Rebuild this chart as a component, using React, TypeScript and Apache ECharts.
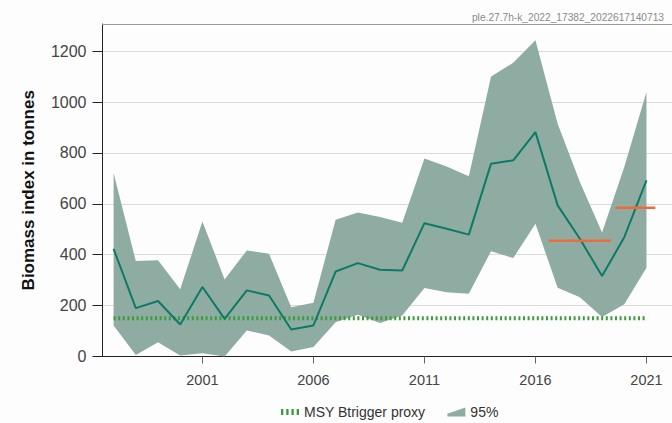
import React, { useEffect, useRef } from "react";
import * as echarts from "echarts";

const years = [1997, 1998, 1999, 2000, 2001, 2002, 2003, 2004, 2005, 2006, 2007, 2008, 2009, 2010, 2011, 2012, 2013, 2014, 2015, 2016, 2017, 2018, 2019, 2020, 2021];
const biomass = [423, 190, 218, 126, 273, 148, 260, 240, 106, 122, 334, 367, 341, 338, 524, 502, 479, 758, 771, 882, 594, 463, 316, 469, 692];
const upper95 = [721, 375, 378, 264, 531, 303, 417, 404, 194, 211, 538, 566, 548, 526, 778, 747, 709, 1101, 1155, 1243, 915, 686, 487, 745, 1040];
const lower95 = [122, 6, 56, 4, 13, 0, 102, 83, 20, 37, 135, 164, 132, 161, 269, 253, 247, 414, 387, 522, 270, 233, 155, 205, 349];
const msyBtrigger = 150;
const periodMeans = [
  { from: 2017, to: 2019, value: 455 },
  { from: 2020, to: 2021, value: 585 },
];
const xTickYears = [2001, 2006, 2011, 2016, 2021];
const yTicks = [0, 200, 400, 600, 800, 1000, 1200];
const titleText = "ple.27.7h-k_2022_17382_2022617140713";

const FONT = "'Liberation Sans', Arial, sans-serif";
const BAND = "#8eaca2";
const MSY = "#3c9c3c";

export default function App() {
  const ref = useRef<HTMLDivElement>(null);
  useEffect(() => {
    if (!ref.current) return;
    const chart = echarts.init(ref.current, null, { renderer: "svg" });
    const bandData = years.map((y, i) => [y, lower95[i], upper95[i]]);
    const lineData = years.map((y, i) => [y, biomass[i]]);
    const msyData = [
      [years[0], msyBtrigger],
      [years[years.length - 1], msyBtrigger],
    ];
    const meanSeries = periodMeans.map((p, i) => ({
      name: "mean" + i,
      type: "line",
      data: [
        [p.from - 0.4, p.value],
        [p.to + 0.4, p.value],
      ],
      symbol: "none",
      lineStyle: { color: "#ee6a3c", width: 2.5 },
      z: 6,
      silent: true,
    }));
    chart.setOption({
      animation: false,
      backgroundColor: "#fdfdfd",
      textStyle: { fontFamily: FONT },
      title: {
        text: titleText,
        right: 3,
        top: 7,
        textStyle: { fontSize: 10.2, color: "#8a8a8a", fontWeight: "normal", fontFamily: FONT },
      },
      grid: {
        left: 102.5,
        top: 24,
        right: -5,
        bottom: 66.5,
      },
      legend: {
        left: 276,
        top: 400,
        itemWidth: 18,
        itemHeight: 12,
        itemGap: 22,
        textStyle: { fontSize: 14, color: "#333", fontFamily: FONT },
        data: [
          {
            name: "MSY Btrigger proxy",
            icon: "path://M0,0h2v5h-2z M4.5,0h2v5h-2z M9,0h2v5h-2z M13.5,0h2v5h-2z",
            itemStyle: { color: MSY },
          },
          { name: "95%", icon: "path://M0,7 L20,0 L20,10 L0,10 Z", itemStyle: { color: BAND } },
        ],
      },
      xAxis: [
        {
          type: "value",
          min: 1996.5,
          max: 2022.15,
          splitLine: { show: false },
          axisLine: { show: true, lineStyle: { color: "#222", width: 1.2 } },
          axisTick: { show: true, length: 7, lineStyle: { color: "#666" }, customValues: xTickYears },
          axisLabel: {
            customValues: xTickYears,
            fontSize: 14.5,
            color: "#444",
            margin: 16,
            fontFamily: FONT,
            formatter: (v: number) => String(v),
          },
        },
        {
          type: "value",
          position: "top",
          min: 1996.5,
          max: 2022.15,
          splitLine: { show: false },
          axisLine: { show: true, lineStyle: { color: "#999", width: 1 } },
          axisTick: { show: false },
          axisLabel: { show: false },
        },
      ],
      yAxis: {
        type: "value",
        min: 0,
        max: 1307,
        interval: 200,
        name: "Biomass index in tonnes",
        nameLocation: "middle",
        nameGap: 66,
        nameTextStyle: { fontSize: 17, fontWeight: "bold", color: "#111", fontFamily: FONT },
        axisLine: { show: true, lineStyle: { color: "#222", width: 1 } },
        axisTick: { show: true, length: 10, lineStyle: { color: "#222" }, customValues: yTicks },
        axisLabel: {
          customValues: yTicks,
          fontSize: 16,
          color: "#444",
          margin: 16,
          fontFamily: FONT,
          formatter: (v: number) => String(v),
        },
        splitLine: { show: true, lineStyle: { color: "#dadada", width: 1 } },
      },
      series: [
        {
          name: "95%",
          type: "custom",
          data: bandData,
          encode: { x: 0, y: [1, 2] },
          itemStyle: { color: BAND },
          z: 2,
          silent: true,
          renderItem: (params: any, api: any) => {
            if (params.dataIndex !== 0) return null;
            const top = bandData.map((d) => api.coord([d[0], d[2]]));
            const bottom = bandData
              .slice()
              .reverse()
              .map((d) => api.coord([d[0], d[1]]));
            return {
              type: "polygon",
              shape: { points: top.concat(bottom) },
              style: { fill: BAND },
            };
          },
        },
        {
          name: "MSY Btrigger proxy",
          type: "line",
          data: msyData,
          symbol: "none",
          itemStyle: { color: MSY },
          lineStyle: { color: MSY, width: 4, type: [2, 2.6] },
          z: 4,
        },
        {
          name: "biomass",
          type: "line",
          data: lineData,
          symbol: "none",
          lineStyle: { color: "#0e7a66", width: 2 },
          z: 5,
        },
        ...meanSeries,
      ],
    });
    return () => chart.dispose();
  }, []);
  return <div ref={ref} style={{ position: "fixed", left: 0, top: 0, width: 672, height: 423 }} />;
}
